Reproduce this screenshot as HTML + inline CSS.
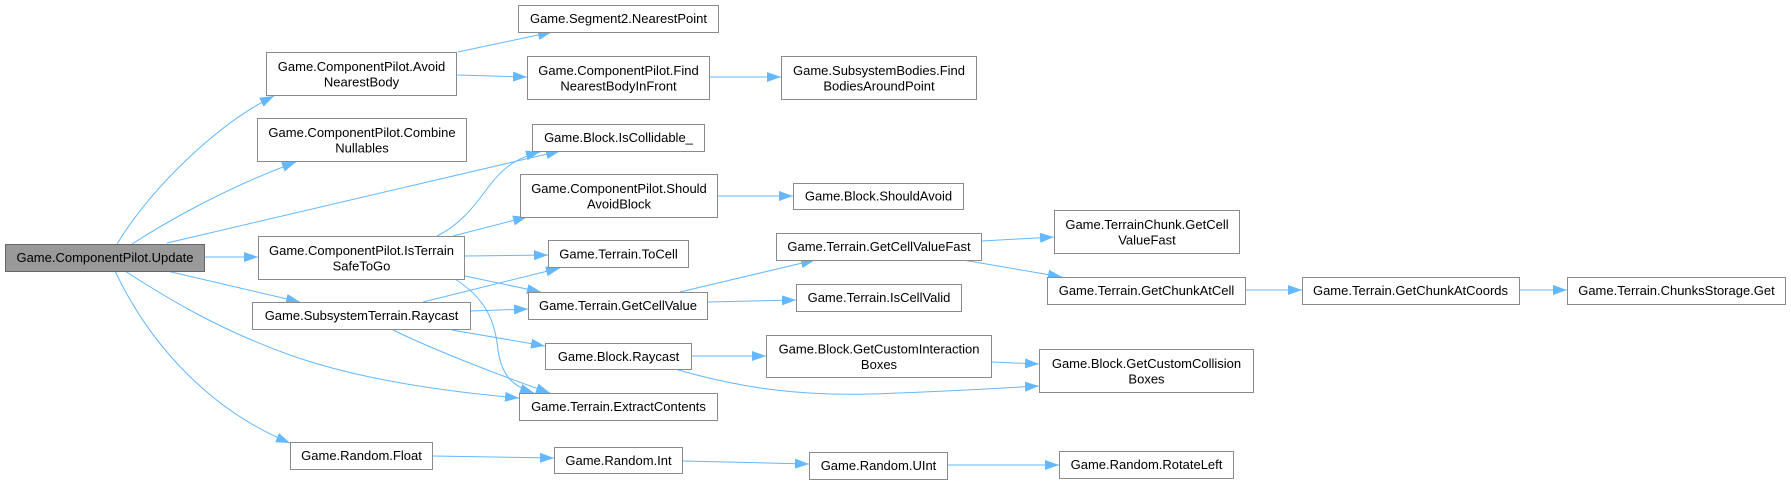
<!DOCTYPE html>
<html>
<head>
<meta charset="utf-8">
<style>
html,body{margin:0;padding:0;background:#fff;}
svg{display:block;}
text{font-family:"Liberation Sans",Arial,sans-serif;font-size:13px;fill:#000;text-anchor:middle;}
.n{fill:#fff;stroke:#8a8a8a;stroke-width:1;}
.r{fill:#999;stroke:#666;stroke-width:1;}
.e{fill:none;stroke:#63b8ff;stroke-width:1;marker-end:url(#a);}
</style>
</head>
<body>
<svg width="1791" height="484" viewBox="0 0 1791 484" xmlns="http://www.w3.org/2000/svg">
<defs>
<marker id="a" viewBox="0 0 14 10" refX="14" refY="5" markerWidth="14" markerHeight="10" markerUnits="userSpaceOnUse" orient="auto">
<path d="M0,0 L14,5 L0,10 z" fill="#63b8ff"/>
</marker>
</defs>

<!-- edges -->
<path class="e" d="M117,244 C150,190 215,125 274,96"/>
<path class="e" d="M132,244 C160,226 220,190 296,162"/>
<path class="e" d="M167,243 L560,151"/>
<path class="e" d="M437,236 C465,222 478,200 490,185 C505,165 520,157 540,152"/>
<path class="e" d="M205,257 L258,257"/>
<path class="e" d="M167,271 L300,302"/>
<path class="e" d="M125,271 C170,300 220,330 290,355 C360,380 450,392 519,398"/>
<path class="e" d="M115,271 C150,345 210,410 290,443"/>
<path class="e" d="M458,52 L552,32"/>
<path class="e" d="M457,75 L527,77"/>
<path class="e" d="M710,77 L781,77"/>
<path class="e" d="M453,236 L527,217"/>
<path class="e" d="M465,256 L548,255"/>
<path class="e" d="M465,276 L541,292"/>
<path class="e" d="M455,279 C485,298 495,320 498,350 C502,378 515,387 534,393"/>
<path class="e" d="M423,302 L560,268"/>
<path class="e" d="M471,311 L528,309"/>
<path class="e" d="M452,330 L545,346"/>
<path class="e" d="M393,330 C430,348 490,372 550,393"/>
<path class="e" d="M680,292 L815,260"/>
<path class="e" d="M708,302 L796,300"/>
<path class="e" d="M982,241 L1054,237"/>
<path class="e" d="M963,260 L1062,277"/>
<path class="e" d="M1246,290 L1302,290"/>
<path class="e" d="M1519,290 L1567,290"/>
<path class="e" d="M718,196 L793,196"/>
<path class="e" d="M692,356 L766,356"/>
<path class="e" d="M675,369 C740,388 800,396 870,394 C940,392 1000,388 1039,386"/>
<path class="e" d="M992,362 L1039,364"/>
<path class="e" d="M433,456 L554,458"/>
<path class="e" d="M683,461 L809,464"/>
<path class="e" d="M948,465 L1059,465"/>

<!-- nodes -->
<rect class="r" x="5.5" y="244.5" width="199" height="27"/>
<text x="105" y="262">Game.ComponentPilot.Update</text>

<rect class="n" x="266.5" y="52.5" width="190" height="43"/>
<text x="361.5" y="71">Game.ComponentPilot.Avoid</text>
<text x="361.5" y="86.5">NearestBody</text>

<rect class="n" x="257.5" y="118.5" width="209" height="43"/>
<text x="362" y="137">Game.ComponentPilot.Combine</text>
<text x="362" y="152.5">Nullables</text>

<rect class="n" x="258.5" y="236.5" width="206" height="43"/>
<text x="361.5" y="255">Game.ComponentPilot.IsTerrain</text>
<text x="361.5" y="270.5">SafeToGo</text>

<rect class="n" x="252.5" y="302.5" width="218" height="27"/>
<text x="361.5" y="320">Game.SubsystemTerrain.Raycast</text>

<rect class="n" x="290.5" y="442.5" width="142" height="27"/>
<text x="361.5" y="460">Game.Random.Float</text>

<rect class="n" x="518.5" y="5.5" width="200" height="27"/>
<text x="618.5" y="23">Game.Segment2.NearestPoint</text>

<rect class="n" x="527.5" y="56.5" width="182" height="43"/>
<text x="618.5" y="75">Game.ComponentPilot.Find</text>
<text x="618.5" y="90.5">NearestBodyInFront</text>

<rect class="n" x="532.5" y="124.5" width="172" height="27"/>
<text x="618.5" y="142">Game.Block.IsCollidable_</text>

<rect class="n" x="520.5" y="174.5" width="197" height="43"/>
<text x="619" y="193">Game.ComponentPilot.Should</text>
<text x="619" y="208.5">AvoidBlock</text>

<rect class="n" x="548.5" y="240.5" width="140" height="27"/>
<text x="618.5" y="258.5">Game.Terrain.ToCell</text>

<rect class="n" x="528.5" y="292.5" width="179" height="27"/>
<text x="618" y="310">Game.Terrain.GetCellValue</text>

<rect class="n" x="545.5" y="343.5" width="146" height="26"/>
<text x="618.5" y="361">Game.Block.Raycast</text>

<rect class="n" x="519.5" y="393.5" width="198" height="27"/>
<text x="618.5" y="411">Game.Terrain.ExtractContents</text>

<rect class="n" x="554.5" y="447.5" width="128" height="26"/>
<text x="618.5" y="465">Game.Random.Int</text>

<rect class="n" x="781.5" y="56.5" width="195" height="43"/>
<text x="879" y="75">Game.SubsystemBodies.Find</text>
<text x="879" y="90.5">BodiesAroundPoint</text>

<rect class="n" x="793.5" y="183.5" width="170" height="26"/>
<text x="878.5" y="200.5">Game.Block.ShouldAvoid</text>

<rect class="n" x="776.5" y="233.5" width="205" height="27"/>
<text x="879" y="251">Game.Terrain.GetCellValueFast</text>

<rect class="n" x="796.5" y="284.5" width="165" height="27"/>
<text x="879" y="302">Game.Terrain.IsCellValid</text>

<rect class="n" x="766.5" y="335.5" width="225" height="42"/>
<text x="879" y="353.5">Game.Block.GetCustomInteraction</text>
<text x="879" y="369">Boxes</text>

<rect class="n" x="809.5" y="452.5" width="138" height="27"/>
<text x="878.5" y="470">Game.Random.UInt</text>

<rect class="n" x="1054.5" y="210.5" width="185" height="43"/>
<text x="1147" y="229">Game.TerrainChunk.GetCell</text>
<text x="1147" y="244.5">ValueFast</text>

<rect class="n" x="1047.5" y="277.5" width="198" height="27"/>
<text x="1146.5" y="295">Game.Terrain.GetChunkAtCell</text>

<rect class="n" x="1039.5" y="349.5" width="214" height="43"/>
<text x="1146.5" y="368">Game.Block.GetCustomCollision</text>
<text x="1146.5" y="383.5">Boxes</text>

<rect class="n" x="1059.5" y="451.5" width="174" height="27"/>
<text x="1146.5" y="469">Game.Random.RotateLeft</text>

<rect class="n" x="1302.5" y="277.5" width="217" height="27"/>
<text x="1410.5" y="295">Game.Terrain.GetChunkAtCoords</text>

<rect class="n" x="1567.5" y="277.5" width="218" height="27"/>
<text x="1676.5" y="295">Game.Terrain.ChunksStorage.Get</text>
</svg>
</body>
</html>
